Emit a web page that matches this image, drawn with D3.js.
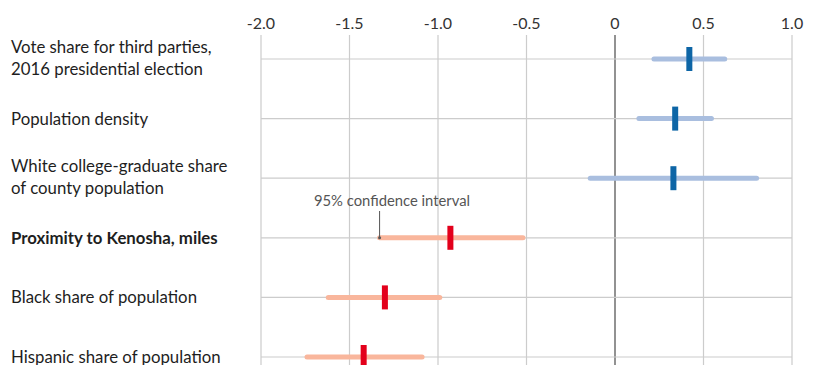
<!DOCTYPE html>
<html lang="en"><head><meta charset="UTF-8">
<title>Coefficients</title>
<script src="https://cdn.jsdelivr.net/npm/d3@7"></script>
<style>
  body { margin: 0; background: #fff; }
  text { font-family: Lato, "Open Sans", sans-serif; }
</style>
</head>
<body>
<script>
// data
var labels = [
  ["Vote share for third parties,", "2016 presidential election"],
  ["Population density"],
  ["White college-graduate share", "of county population"],
  ["Proximity to Kenosha, miles"],
  ["Black share of population"],
  ["Hispanic share of population"]
];
var estimate = [0.42, 0.34, 0.33, -0.93, -1.30, -1.42];
var ciLow    = [0.22, 0.135, -0.14, -1.33, -1.62, -1.74];
var ciHigh   = [0.62, 0.545, 0.80, -0.52, -0.99, -1.09];
var tickVals = [-2, -1.5, -1, -0.5, 0, 0.5, 1];
var tickText = ["-2.0", "-1.5", "-1.0", "-0.5", "0", "0.5", "1.0"];

var w = 816, h = 365;

var x = d3.scaleLinear().domain([-2, 1]).range([261, 792]);
var y = d3.scalePoint().domain(d3.range(labels.length)).range([59, 357]);

var svg = d3.select("body").append("svg")
  .attr("width", w).attr("height", h);

// vertical grid
svg.selectAll("line.vgrid")
  .data(tickVals).enter().append("line")
  .attr("x1", function(d) { return x(d); })
  .attr("x2", function(d) { return x(d); })
  .attr("y1", 35).attr("y2", h)
  .attr("stroke", function(d) { return d == 0 ? "#777" : "#ccc"; })
  .attr("stroke-width", function(d) { return d == 0 ? 1.6 : 1.2; });

svg.selectAll("text.tick")
  .data(tickVals).enter().append("text")
  .attr("x", function(d) { return x(d); })
  .attr("y", 29)
  .attr("text-anchor", "middle")
  .attr("font-size", 16)
  .attr("fill", "#333")
  .text(function(d, i) { return tickText[i]; });

// horizontal row lines
svg.selectAll("line.hgrid")
  .data(estimate).enter().append("line")
  .attr("x1", x(-2)).attr("x2", x(1))
  .attr("y1", function(d, i) { return y(i); })
  .attr("y2", function(d, i) { return y(i); })
  .attr("stroke", "#ccc").attr("stroke-width", 1.2);

// confidence intervals
svg.selectAll("line.ci")
  .data(estimate).enter().append("line")
  .attr("x1", function(d, i) { return x(ciLow[i]); })
  .attr("x2", function(d, i) { return x(ciHigh[i]); })
  .attr("y1", function(d, i) { return y(i); })
  .attr("y2", function(d, i) { return y(i); })
  .attr("stroke", function(d) { return d > 0 ? "#a9bedf" : "#f9b69c"; })
  .attr("stroke-width", 5)
  .attr("stroke-linecap", "round");

// point estimates
svg.selectAll("rect.est")
  .data(estimate).enter().append("rect")
  .attr("x", function(d) { return x(d) - 3; })
  .attr("y", function(d, i) { return y(i) - 12; })
  .attr("width", 6).attr("height", 24)
  .attr("fill", function(d) { return d > 0 ? "#0d65a6" : "#e3001b"; });

// row labels
var lab = svg.selectAll("text.lab")
  .data(labels).enter().append("text")
  .attr("x", 11)
  .attr("y", function(d, i) { return y(i) + (d.length > 1 ? -6 : 6); })
  .attr("font-size", 16.8)
  .attr("fill", "#1e1e1e")
  .attr("font-weight", function(d, i) { return i == 3 ? "bold" : "normal"; });
lab.selectAll("tspan")
  .data(function(d) { return d; }).enter().append("tspan")
  .attr("x", 11)
  .attr("dy", function(d, j) { return j == 0 ? 0 : 22; })
  .text(function(d) { return d; });

// annotation
var ax = x(ciLow[3]);
svg.append("line")
  .attr("x1", ax).attr("x2", ax)
  .attr("y1", 211).attr("y2", y(3))
  .attr("stroke", "#555").attr("stroke-width", 1);
svg.append("circle")
  .attr("cx", ax).attr("cy", y(3)).attr("r", 1.5).attr("fill", "#555");
svg.append("text")
  .attr("x", 392).attr("y", 206)
  .attr("text-anchor", "middle")
  .attr("font-size", 14.8)
  .attr("fill", "#555")
  .text("95% confidence interval");
</script>
</body></html>
